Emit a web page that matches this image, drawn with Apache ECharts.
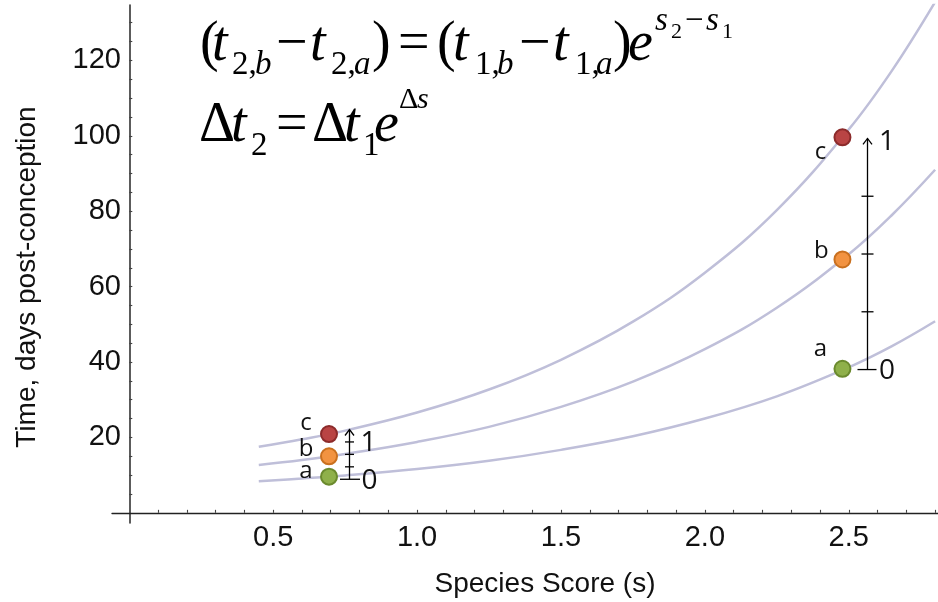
<!DOCTYPE html>
<html>
<head>
<meta charset="utf-8">
<script src="https://cdn.jsdelivr.net/npm/echarts@6/dist/echarts.min.js"></script>
<style>
  html, body { margin: 0; padding: 0; background: #fff; }
  #chart { width: 938px; height: 602px; }
</style>
</head>
<body>
<div id="chart"></div>
<script>
// Species score positions at which the three timing curves are sampled
const scoreSamples = [0.45, 0.6, 0.75, 1.0, 1.25, 1.5, 1.75, 2.0, 2.25, 2.5, 2.65, 2.8];
// Days post-conception along each curve (events a, b, c)
const curveA = [8.4, 9.1, 9.9, 11.6, 13.8, 16.7, 20.3, 25.0, 30.9, 38.6, 44.2, 50.8];
const curveB = [12.7, 14.0, 15.6, 18.8, 22.8, 28.1, 34.8, 43.4, 54.4, 68.6, 79.0, 91.0];
const curveC = [17.5, 19.5, 21.8, 26.6, 32.7, 40.6, 50.7, 63.7, 80.3, 101.7, 117.3, 135.5];

// Marked events for species 1 (low score) and species 2 (high score)
const markScores = [0.694, 2.478];
const eventA = [9.6, 38.2];
const eventB = [15.0, 67.2];
const eventC = [20.9, 99.6];

// Relative scale bars: [score, value at 0, value at 1]
const scaleBars = [[0.763, 8.9, 22.1], [2.565, 38.0, 99.3]];

const xTickLabels = [0.5, 1.0, 1.5, 2.0, 2.5];
const yTickLabels = [20, 40, 60, 80, 100, 120];

// ---- styling ----
const SANS = 'Liberation Sans';
const SERIF = 'Liberation Serif';
const LABEL_FONT = 'Open Sans';
const CURVE_COLOR = '#bfbfd9';

const eventStyles = {
  a: { fill: '#8fb04a', border: '#6b8a2e', offsets: [[-23, -5], [-22, -20]] },
  b: { fill: '#f29341', border: '#c9701f', offsets: [[-23, -7], [-21, -8]] },
  c: { fill: '#b94444', border: '#8c2b2b', offsets: [[-23, -11], [-22, 15]] }
};
const barStyles = [
  { tick: 4.5, base: [9.5, 10.5], one: [19, 14], zero: [20, 1.5] },
  { tick: 6, base: [10, 9], one: [19.5, 4], zero: [19.5, 1] }
];

const xMinorTicks = [];
for (let v = 1; v <= 28; v++) xMinorTicks.push(+(v / 10).toFixed(1));
const yMinorTicks = [];
for (let v = 5; v <= 130; v += 5) yMinorTicks.push(v);

function curveSeries(name, values) {
  return {
    name: name,
    type: 'line',
    data: scoreSamples.map((s, i) => [s, values[i]]),
    smooth: 0.4,
    showSymbol: false,
    silent: true,
    z: 2,
    lineStyle: { color: CURVE_COLOR, width: 2.5 }
  };
}

function eventSeries(name, values) {
  const st = eventStyles[name];
  return {
    name: name,
    type: 'scatter',
    z: 5,
    symbolSize: 16,
    itemStyle: { color: st.fill, borderColor: st.border, borderWidth: 2, opacity: 1 },
    data: markScores.map((s, i) => ({
      value: [s, values[i]],
      label: {
        show: true,
        position: 'inside',
        offset: st.offsets[i],
        formatter: name,
        color: '#111',
        fontSize: 24,
        fontFamily: LABEL_FONT
      }
    }))
  };
}

// Formula pieces: [text, x, baseline, size, italic]
const formulaPieces = [
  ['(', 200, 64, 56, false], ['t', 212, 64, 56, true],
  ['2,', 232, 76, 33, false], ['b', 255, 76, 33, true],
  ['\u2212', 276, 64, 56, false],
  ['t', 310, 64, 56, true], ['2,', 331, 76, 33, false], ['a', 354, 76, 33, true],
  [')', 372, 64, 56, false], ['=', 398, 64, 56, false],
  ['(', 437, 64, 56, false], ['t', 453, 64, 56, true],
  ['1,', 475, 76, 33, false], ['b', 497, 76, 33, true],
  ['\u2212', 519, 64, 56, false],
  ['t', 553, 64, 56, true], ['1,', 575, 76, 33, false], ['a', 596, 76, 33, true],
  [')', 613, 64, 56, false], ['e', 628, 64, 56, true],
  ['s', 655, 32, 33, true], ['2', 671, 40, 22, false],
  ['\u2212', 685, 32, 33, false], ['s', 706, 32, 33, true], ['1', 722, 40, 22, false],

  ['\u0394', 199, 145, 56, false], ['t', 231, 145, 56, true], ['2', 251, 157, 33, false],
  ['=', 276, 145, 56, false],
  ['\u0394', 312, 145, 56, false], ['t', 344, 145, 56, true], ['1', 363, 157, 33, false],
  ['e', 374, 145, 56, true],
  ['\u0394', 399, 110, 30, false], ['s', 417, 110, 30, true]
];

function textEl(text, x, y, family, size, opts) {
  const o = opts || {};
  return {
    type: 'text',
    x: x, y: y,
    rotation: o.rotation || 0,
    silent: true,
    style: {
      text: text, x: 0, y: 0,
      fontFamily: family, fontSize: size,
      fontStyle: o.italic ? 'italic' : 'normal',
      fill: o.fill || '#000',
      align: o.align || 'left', textAlign: o.align || 'left',
      verticalAlign: 'middle', textVerticalAlign: 'middle'
    }
  };
}

const graphics = formulaPieces.map(p =>
  textEl(p[0], p[1], p[2] - 0.3375 * p[3], SERIF, p[3], { italic: p[4] })
);
graphics.push(textEl('Species Score (s)', 545, 584, SANS, 28, { align: 'center', fill: '#111' }));
graphics.push(textEl('Time, days post-conception', 27, 277, SANS, 28,
  { align: 'center', rotation: Math.PI / 2, fill: '#111' }));

function renderScaleBar(params, api) {
  const s = api.value(0), lo = api.value(1), hi = api.value(2);
  const p0 = api.coord([s, lo]);
  const p1 = api.coord([s, hi]);
  const st = barStyles[params.dataIndex];
  const x = Math.round(p0[0]) + 0.5;
  const stroke = { stroke: '#000', lineWidth: 1.3, fill: null };
  const children = [
    { type: 'line', shape: { x1: x, y1: p0[1], x2: x, y2: p1[1] }, style: stroke },
    { type: 'polyline', shape: { points: [[x - 4.5, p1[1] + 6], [x, p1[1]], [x + 4.5, p1[1] + 6]] }, style: stroke },
    { type: 'line', shape: { x1: x - st.base[0], y1: p0[1], x2: x + st.base[1], y2: p0[1] }, style: stroke }
  ];
  for (let k = 1; k < 4; k++) {
    const y = api.coord([s, lo + (hi - lo) * k / 4])[1];
    children.push({ type: 'line', shape: { x1: x - st.tick, y1: y, x2: x + st.tick, y2: y }, style: stroke });
  }
  const txt = (t, tx, ty) => ({ type: 'text', x: tx, y: ty,
    style: { text: t, fontFamily: LABEL_FONT, fontSize: 28, fill: '#111', align: 'center', verticalAlign: 'middle' } });
  children.push(txt('1', x + st.one[0], p1[1] + st.one[1]));
  children.push(txt('0', x + st.zero[0], p0[1] + st.zero[1]));
  return { type: 'group', children: children };
}

const chart = echarts.init(document.getElementById('chart'), null, { renderer: 'canvas' });
chart.setOption({
  animation: false,
  backgroundColor: '#fff',
  grid: { left: 112, right: 0, top: 5, bottom: 79, containLabel: false, outerBoundsMode: 'none' },
  xAxis: {
    type: 'value',
    min: -0.06, max: 2.81,
    axisLine: { onZero: true, lineStyle: { color: '#222', width: 1.3 } },
    axisTick: { show: true, inside: true, length: 3, customValues: xMinorTicks,
      lineStyle: { color: '#444', width: 1.1 } },
    axisLabel: { customValues: xTickLabels, formatter: v => v.toFixed(1),
      fontSize: 29, fontFamily: SANS, color: '#111', margin: 0 },
    splitLine: { show: false }
  },
  yAxis: {
    type: 'value',
    min: -2.7, max: 134.7,
    axisLine: { onZero: true, lineStyle: { color: '#333', width: 1.6 } },
    axisTick: { show: true, inside: true, length: 3, customValues: yMinorTicks,
      lineStyle: { color: '#444', width: 1.1 } },
    axisLabel: { customValues: yTickLabels, formatter: v => String(v),
      fontSize: 29, fontFamily: SANS, color: '#111', margin: -9 },
    splitLine: { show: false }
  },
  series: [
    curveSeries('curveA', curveA),
    curveSeries('curveB', curveB),
    curveSeries('curveC', curveC),
    {
      name: 'scale',
      type: 'custom',
      z: 3,
      silent: true,
      renderItem: renderScaleBar,
      encode: { x: 0, y: [1, 2] },
      data: scaleBars
    },
    eventSeries('a', eventA),
    eventSeries('b', eventB),
    eventSeries('c', eventC)
  ],
  graphic: graphics
});
</script>
</body>
</html>
